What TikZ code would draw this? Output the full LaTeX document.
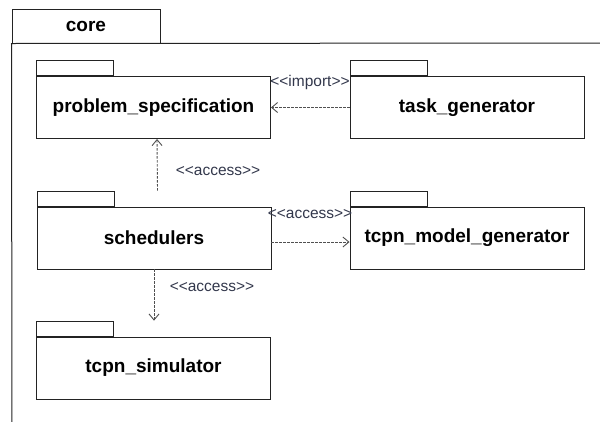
\documentclass[tikz,border=0pt]{standalone}
\usepackage{fontspec}
\setmainfont{Liberation Sans}
\usetikzlibrary{positioning,arrows.meta}
\definecolor{deparrow}{RGB}{80,80,80}
\definecolor{deplabel}{RGB}{50,55,75}
\definecolor{pkgline}{RGB}{35,35,35}
\tikzset{
  pkg/.style={draw=pkgline, line width=0.9pt, fill=white, minimum width=234pt, minimum height=62pt,
    inner sep=0pt, font=\fontsize{19}{22}\selectfont\bfseries},
  pkgtab/.style={draw=pkgline, line width=0.9pt, minimum width=77pt, minimum height=15pt, inner sep=0pt},
  coretab/.style={draw=pkgline, line width=1pt, minimum width=148pt, minimum height=34pt, inner sep=0pt,
    font=\fontsize{19}{22}\selectfont\bfseries},
  dep/.style={draw=deparrow, line width=0.9pt, dash pattern=on 2.5pt off 1.5pt,
    -{Straight Barb[length=6pt,width=10pt]}},
  deplbl/.style={text=deplabel, font=\fontsize{15.5}{18}\selectfont, inner sep=0pt}
}
\begin{document}
\begin{tikzpicture}[x=1pt, y=-1pt]
  \useasboundingbox (0,0) rectangle (600,421);
  \clip (0,0) rectangle (600,421);

  \node[coretab] (core) at (86,26) {core};
  \draw[draw=pkgline, line width=1pt] (12,440) -- (core.south west) -- (620,43);

  \node[pkg] (ps) at (153.5,107.5) {problem\_specification};
  \node[pkgtab, above right=0pt of ps.north west] (pstab) {};
  \node[pkg] (tg) at (467,107.5) {task\_generator};
  \node[pkgtab, above right=0pt of tg.north west] (tgtab) {};
  \node[pkg] (sch) at (154,238) {schedulers};
  \node[pkgtab, above right=0pt of sch.north west] (schtab) {};
  \node[pkg] (tmg) at (467,238) {tcpn\_model\_generator};
  \node[pkgtab, above right=0pt of tmg.north west] (tmgtab) {};
  \node[pkg] (sim) at (153.5,368) {tcpn\_simulator};
  \node[pkgtab, above right=0pt of sim.north west] (simtab) {};

  \draw[dep] (tg.west) -- (ps.east);
  \node[deplbl] (lblimport) at (310,82) {<{}<import>{}>};
  \draw[dep] ([xshift=3.5pt,yshift=16pt]sch.north) -- ([xshift=3.5pt]ps.south);
  \node[deplbl] (lblaccessa) at (218,171) {<{}<access>{}>};
  \draw[dep] ([yshift=-4pt]sch.east) -- ([yshift=-4pt]tmg.west);
  \node[deplbl] (lblaccessb) at (310,214) {<{}<access>{}>};
  \draw[dep] (sch.south) -- (simtab.north -| sch.south);
  \node[deplbl] (lblaccessc) at (212,287) {<{}<access>{}>};
\end{tikzpicture}
\end{document}
